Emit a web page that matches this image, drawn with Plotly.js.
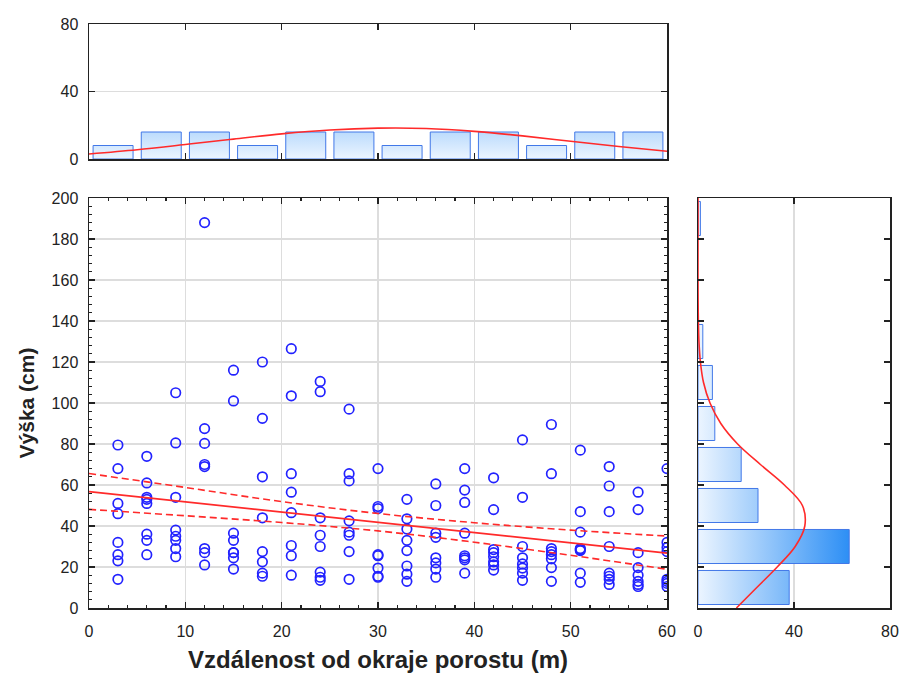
<!DOCTYPE html>
<html><head><meta charset="utf-8">
<script src="https://cdn.plot.ly/plotly-3.0.1.min.js"></script>
<style>html,body{margin:0;padding:0;background:#fff}#chart{width:902px;height:677px}</style>
</head><body><div id="chart"></div>
<script>
// ---------- data ----------
const distances = [3, 6, 9, 12, 15, 18, 21, 24, 27, 30, 33, 36, 39, 42, 45, 48, 51, 54, 57, 60];
const heightsAt03 = [79.5, 68, 51, 46, 32, 26, 23, 14];
const heightsAt06 = [74, 61, 54, 53, 51, 36, 33, 26];
const heightsAt09 = [105, 80.5, 54, 38, 35, 33, 29, 25];
const heightsAt12 = [188, 87.5, 80.3, 70, 69, 29, 27, 21];
const heightsAt15 = [116, 101, 36.5, 33, 27, 27, 24.5, 19];
const heightsAt18 = [120, 92.5, 64, 44, 27.5, 22.5, 17, 15.5];
const heightsAt21 = [126.5, 103.5, 65.5, 56.5, 46.5, 30.5, 25.5, 16];
const heightsAt24 = [110.5, 105.5, 44, 35.5, 30, 17.5, 15, 13.5];
const heightsAt27 = [97, 65.5, 62, 42.5, 37, 35.5, 27.5, 14];
const heightsAt30 = [68, 49.5, 48.5, 26, 25.5, 19.5, 15.5, 15];
const heightsAt33 = [53, 43.5, 38.5, 33, 28, 20.5, 16.5, 13];
const heightsAt36 = [60.5, 50, 36.5, 34.5, 24.5, 22, 19, 15];
const heightsAt39 = [68, 57.5, 51.5, 36.5, 25.5, 24.5, 23.5, 17];
const heightsAt42 = [63.5, 48, 28.5, 27, 25, 22.5, 21, 18.5];
const heightsAt45 = [82, 54, 30, 24.5, 21.5, 19.5, 17, 13.5];
const heightsAt48 = [89.5, 65.5, 29, 27.5, 26, 24, 19.7, 13];
const heightsAt51 = [77, 47, 37, 29, 28.5, 28, 17, 12.5];
const heightsAt54 = [69, 59.5, 47, 30, 17, 15.5, 14, 11.5];
const heightsAt57 = [56.5, 48, 27, 19.7, 16, 13, 11.5, 10.5];
const heightsAt60 = [68, 32, 29.5, 27.5, 14, 13, 12, 10.5];
const heightGroups = [heightsAt03, heightsAt06, heightsAt09, heightsAt12, heightsAt15, heightsAt18,
  heightsAt21, heightsAt24, heightsAt27, heightsAt30, heightsAt33, heightsAt36, heightsAt39,
  heightsAt42, heightsAt45, heightsAt48, heightsAt51, heightsAt54, heightsAt57, heightsAt60];

// regression line and 95% confidence band
const fitX = [0, 10, 20, 30, 40, 50, 60];
const fitY = [56.8, 51.8, 46.8, 41.8, 36.8, 31.8, 26.8];
const ciUpper = [65.6, 58.8, 51.9, 46.1, 41.6, 38.0, 35.1];
const ciLower = [48.1, 45.0, 41.7, 37.6, 32.1, 25.7, 18.9];

// top histogram (distance)
const distBinLow = [0, 5, 10, 15, 20, 25, 30, 35, 40, 45, 50, 55];
const distBinWidth = 5;
const distCounts = [8, 16, 16, 8, 16, 16, 8, 16, 16, 8, 16, 16];
const distCurveX = [0, 5, 10, 15, 20, 25, 30, 35, 40, 45, 50, 55, 60];
const distCurveY = [3.0, 5.5, 8.6, 11.8, 14.9, 17.2, 18.3, 18.1, 16.4, 13.7, 10.5, 7.4, 4.6];

// right histogram (height)
const heightBinLow = [0, 20, 40, 60, 80, 100, 120, 140, 160, 180];
const heightBinWidth = 20;
const heightCounts = [38, 63, 25, 18, 7, 6, 2, 0, 0, 1];
const heightCurveY = [0, 10, 20, 30, 40, 50, 60, 70, 80, 90, 100, 110, 120, 130, 140, 150, 160, 170, 180, 190, 200];
const heightCurveX = [16, 24.5, 33, 40.5, 44.5, 43.5, 36, 26, 16.5, 9.5, 5, 2.3, 1.0, 0.4, 0.15, 0.05, 0, 0, 0, 0, 0];

// ---------- styles ----------
const FONT = 'Liberation Sans, Arial, sans-serif';
const INK = '#222222';
const BLUE = '#2222ff';
const RED = '#ff2a2a';
const BAR_EDGE = 'rgb(66,120,232)';
const GRAD = [[0, 'rgb(236,245,255)'], [1, 'rgb(45,143,245)']];
const BAR_FILL_RATIO = 0.83;

// scatter points
const px = [], py = [];
distances.forEach((d, i) => heightGroups[i].forEach(h => { px.push(d); py.push(h); }));

// histogram polygons built from bin edges and counts
function vBars(lows, width, counts) {
  const xs = [], ys = [];
  lows.forEach((lo, i) => {
    if (!counts[i]) return;
    const pad = width * (1 - BAR_FILL_RATIO) / 2;
    const a = lo + pad, b = lo + width - pad;
    xs.push(a, a, b, b, a, null); ys.push(0, counts[i], counts[i], 0, 0, null);
  });
  return {xs, ys};
}
const topBars = vBars(distBinLow, distBinWidth, distCounts);
const sideBarsV = vBars(heightBinLow, heightBinWidth, heightCounts);

const traces = [
  {type: 'scatter', mode: 'markers', x: px, y: py, xaxis: 'x', yaxis: 'y',
   marker: {symbol: 'circle-open', size: 9.5, color: BLUE, line: {color: BLUE, width: 1.7}},
   cliponaxis: true, hoverinfo: 'x+y'},
  {type: 'scatter', mode: 'lines', x: fitX, y: ciUpper, xaxis: 'x', yaxis: 'y',
   line: {color: RED, width: 1.6, dash: '7px,4px', shape: 'spline'}},
  {type: 'scatter', mode: 'lines', x: fitX, y: ciLower, xaxis: 'x', yaxis: 'y',
   line: {color: RED, width: 1.6, dash: '7px,4px', shape: 'spline'}},
  {type: 'scatter', mode: 'lines', x: fitX, y: fitY, xaxis: 'x', yaxis: 'y',
   line: {color: RED, width: 1.8}},
  // top histogram
  {type: 'scatter', mode: 'lines', x: topBars.xs, y: topBars.ys, xaxis: 'x2', yaxis: 'y2',
   fill: 'toself', fillgradient: {type: 'vertical', start: 0, stop: 63, colorscale: GRAD},
   line: {color: BAR_EDGE, width: 1}, connectgaps: false},
  {type: 'scatter', mode: 'lines', x: distCurveX, y: distCurveY, xaxis: 'x2', yaxis: 'y2',
   line: {color: RED, width: 1.6, shape: 'spline'}},
  // right histogram (horizontal)
  {type: 'scatter', mode: 'lines', x: sideBarsV.ys, y: sideBarsV.xs, xaxis: 'x3', yaxis: 'y3',
   fill: 'toself', fillgradient: {type: 'horizontal', start: 0, stop: 63, colorscale: GRAD},
   line: {color: BAR_EDGE, width: 1}, connectgaps: false},
  {type: 'scatter', mode: 'lines', x: heightCurveX, y: heightCurveY, xaxis: 'x3', yaxis: 'y3',
   line: {color: RED, width: 1.6, shape: 'spline'}}
];

const tickFont = {family: FONT, size: 16, color: INK};
const frame = {showline: true, linecolor: INK, linewidth: 1.5, mirror: 'ticks', ticks: 'inside',
  tickcolor: INK, ticklen: 6, tickwidth: 1.2, zeroline: false, fixedrange: true, tickfont: tickFont,
  gridcolor: '#dddddd', gridwidth: 1.5};

const L = 89, R = 890, T = 24, B = 608, W = 902, H = 677;
const pw = R - L, ph = B - T;

const layout = {
  width: W, height: H, paper_bgcolor: '#fff', plot_bgcolor: '#fff', showlegend: false,
  margin: {l: L, r: W - R, t: T, b: H - B, pad: 0},
  font: {family: FONT, color: INK},
  xaxis: Object.assign({}, frame, {domain: [0, (667 - L) / pw], range: [0, 60], dtick: 10, tick0: 0,
    anchor: 'y', showgrid: true, ticklabelstandoff: 8,
    minor: {ticks: 'inside', dtick: 2, ticklen: 3, tickcolor: INK, showgrid: false},
    title: {text: 'Vzdálenost od okraje porostu (m)', font: {family: FONT, size: 24, weight: 'bold', color: INK}, standoff: 12}}),
  yaxis: Object.assign({}, frame, {domain: [0, (B - 198) / ph], range: [0, 200], dtick: 20, tick0: 0,
    anchor: 'x', showgrid: true, ticklabelstandoff: 6,
    minor: {ticks: 'inside', dtick: 4, ticklen: 3, tickcolor: INK, showgrid: false},
    title: {text: 'Výška (cm)', font: {family: FONT, size: 21, weight: 'bold', color: INK}, standoff: 11}}),
  xaxis2: Object.assign({}, frame, {domain: [0, (667 - L) / pw], range: [0, 60], dtick: 10, anchor: 'y2',
    showticklabels: false, showgrid: false}),
  yaxis2: Object.assign({}, frame, {domain: [(B - 159) / ph, 1], range: [0, 80], dtick: 40, anchor: 'x2',
    showgrid: true, ticklabelstandoff: 6}),
  xaxis3: Object.assign({}, frame, {domain: [(698 - L) / pw, 1], range: [0, 80], dtick: 40, anchor: 'y3',
    showgrid: true, ticklabelstandoff: 8}),
  yaxis3: Object.assign({}, frame, {domain: [0, (B - 198) / ph], range: [0, 200], dtick: 20, anchor: 'x3',
    showticklabels: false, showgrid: false})
};

Plotly.newPlot('chart', traces, layout, {displayModeBar: false, staticPlot: true});
</script>
</body></html>
